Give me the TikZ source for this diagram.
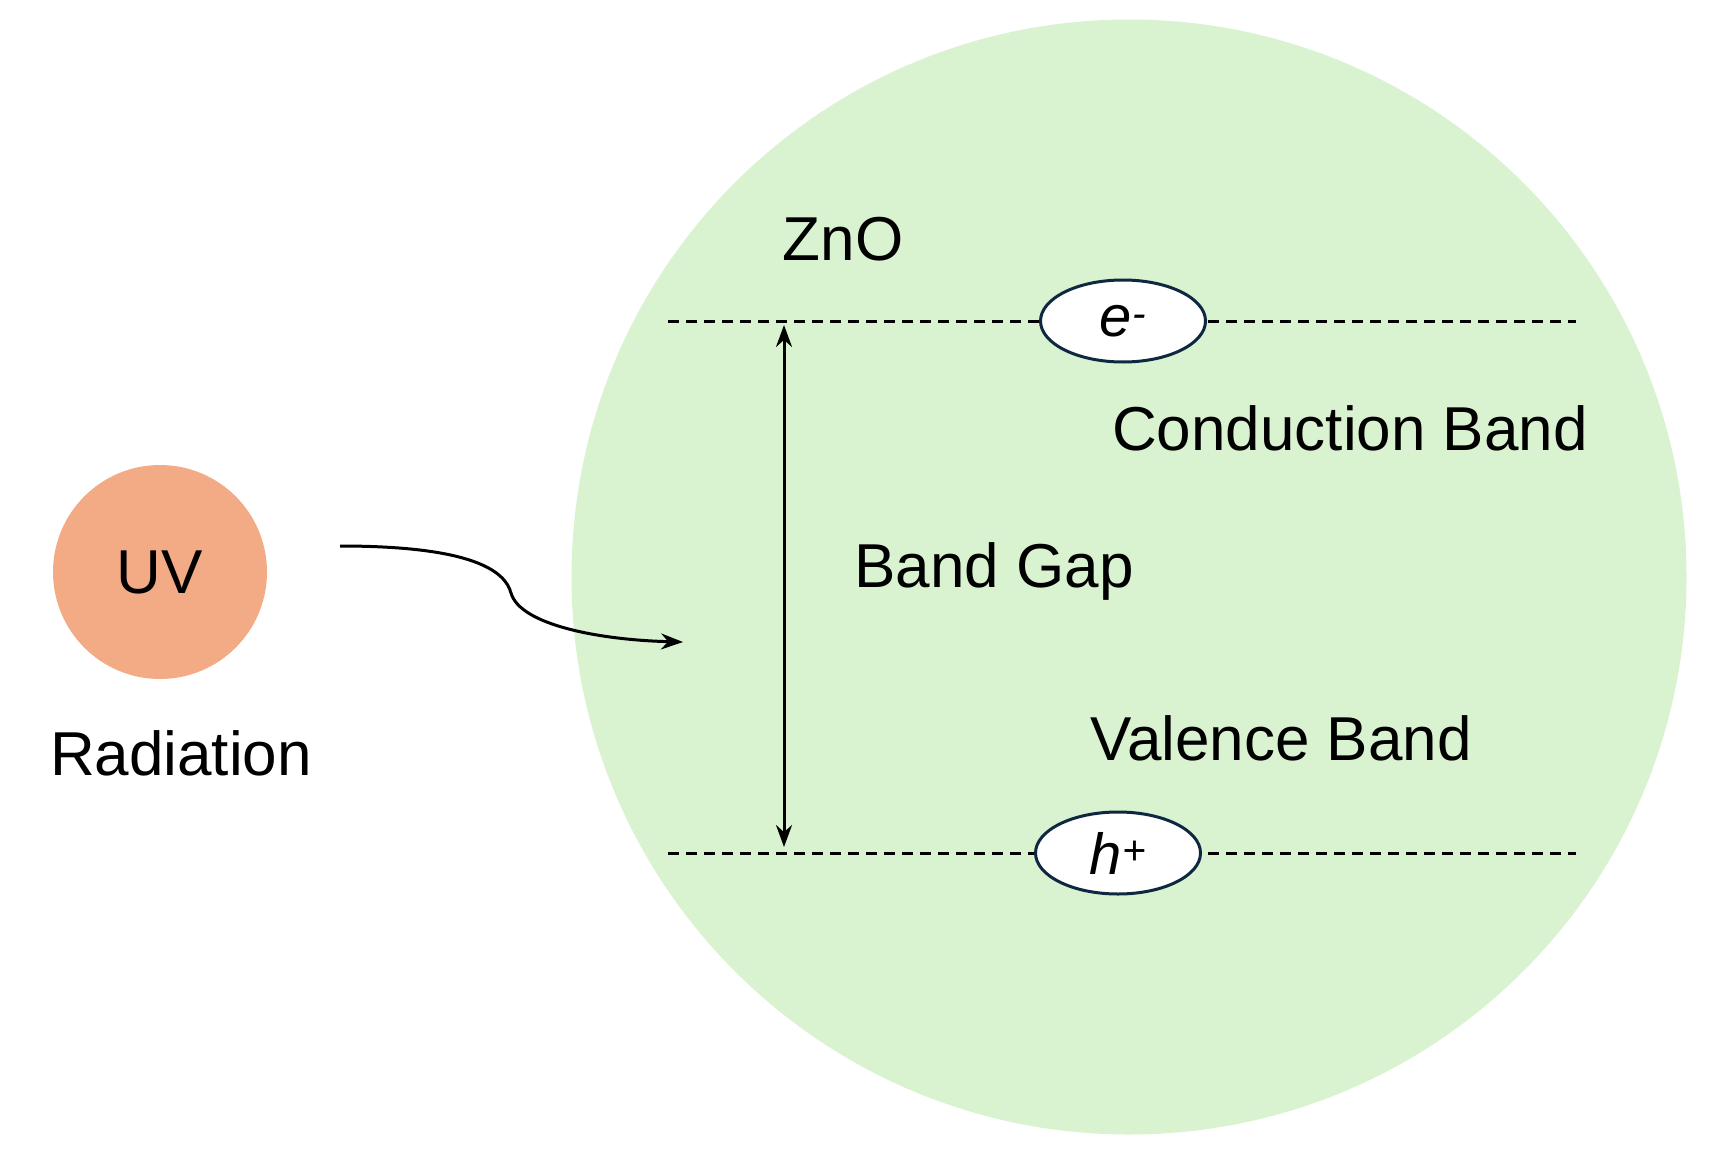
\documentclass[tikz,border=0pt]{standalone}
\usepackage{fontspec}
\setmainfont{Liberation Sans}
\usetikzlibrary{arrows.meta,shapes.geometric}
\definecolor{zno}{HTML}{D9F2D0}
\definecolor{uv}{HTML}{F2AB85}
\definecolor{edge}{HTML}{0E2841}
\begin{document}
\begin{tikzpicture}[x=1pt,y=-1pt,
  lbl/.style={font=\fontsize{62}{70}\selectfont},
  band/.style={dashed,line width=3pt,dash pattern=on 11pt off 7pt},
  carrier/.style={draw=edge,fill=white,line width=3pt,ellipse,minimum width=165pt,minimum height=82pt,inner sep=0pt,font=\fontsize{58}{64}\selectfont\itshape},
  arr/.style={line width=3pt,-{Stealth[length=22pt,width=16pt]}}]
\useasboundingbox (0,0) rectangle (1720,1150);
\node[circle,fill=zno,minimum size=1115pt] (zno) at (1129,577) {};
\node[circle,fill=uv,minimum size=214pt] (uvc) at (160,572) {};
\node[lbl] (uvt) at (160,572) {UV};
\node[lbl] (rad) at (181,753) {Radiation};
\node[lbl] (zt) at (843,239) {ZnO};
\coordinate (cl) at (668,321); \coordinate (cr) at (1576,321);
\coordinate (vl) at (668,853); \coordinate (vr) at (1576,853);
\draw[band] (cl) -- (cr);
\draw[band] (vl) -- (vr);
\node[carrier] (e) at (1123,321) {e\textsuperscript{-}};
\node[carrier] (h) at (1118,853) {h\textsuperscript{+}};
\node[lbl] (cb) at (1350,428) {Conduction Band};
\node[lbl] (vb) at (1281,738) {Valence Band};
\node[lbl] (bg) at (994,571) {Band Gap};
\coordinate (gt) at (784,325); \coordinate (gb) at (784,847);
\draw[line width=3pt,{Stealth[length=22pt,width=16pt]}-{Stealth[length=22pt,width=16pt]}] (gt) -- (gb);
\coordinate (s) at (340,546); \coordinate (t) at (683,642);
\draw[arr] (s) .. controls (470,546) and (505,570) .. (511,593) .. controls (520,625) and (600,640) .. (t);
\end{tikzpicture}
\end{document}
